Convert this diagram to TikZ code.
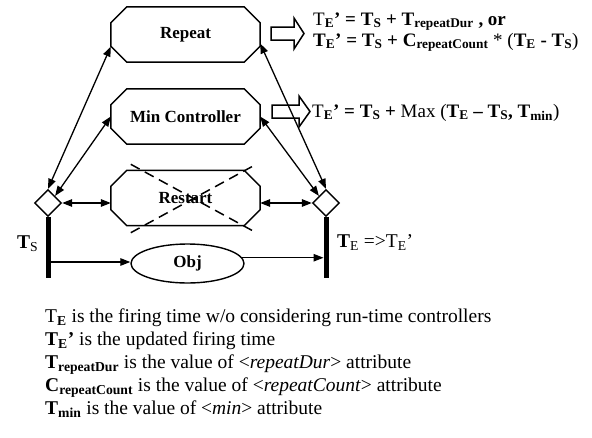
\documentclass[tikz,border=0pt]{standalone}
\usepackage{fontspec}
\setmainfont{Liberation Serif}
\usetikzlibrary{shapes.geometric,arrows.meta,calc}
\newcommand{\sbs}[1]{\textsubscript{#1}}
\newcommand{\octbox}[1]{%
  \draw[boxline] ($(#1.north west)+(16,0)$) -- ($(#1.north east)+(-16,0)$)
    -- ($(#1.north east)+(0,16)$) -- ($(#1.south east)+(0,-16)$)
    -- ($(#1.south east)+(-16,0)$) -- ($(#1.south west)+(16,0)$)
    -- ($(#1.south west)+(0,-16)$) -- ($(#1.north west)+(0,16)$) -- cycle;}
\begin{document}
\begin{tikzpicture}[x=1pt,y=-1pt,
  boxline/.style={line width=1.5pt, line join=miter},
  ctrl/.style={rectangle, minimum width=149pt, minimum height=55pt, inner sep=0pt,
    font=\fontsize{17}{20}\selectfont\bfseries},
  dia/.style={diamond, draw, line width=1.4pt, minimum width=27pt, minimum height=27pt, inner sep=0pt, fill=white},
  bar/.style={line width=5pt},
  arr/.style={line width=1.3pt, -{Triangle[length=10pt,width=7.5pt]}},
  darr/.style={line width=1.3pt, {Triangle[length=10pt,width=7.5pt]}-{Triangle[length=10pt,width=7.5pt]}},
  hollow/.style={line width=1.5pt, line join=miter},
  big/.style={font=\fontsize{19.5}{23}\selectfont, inner sep=0pt, anchor=base west},
  frm/.style={font=\fontsize{19}{23}\selectfont, inner sep=0pt, anchor=base west},
  xcross/.style={line width=1.5pt, dash pattern=on 10pt off 6pt}
]
\useasboundingbox (0,0) rectangle (592,437);

% controller boxes
\node[ctrl] (rep) at (185.5,34.5) {Repeat};
\node[ctrl] (minc) at (185.5,116.5) {Min Controller};
\node[ctrl] (rst) at (185.5,198) {Restart};
\octbox{rep}
\octbox{minc}
\octbox{rst}
\draw[xcross] ($(rst.north west)+(20,-6)$) -- ($(rst.south east)+(-4,7)$);
\draw[xcross] ($(rst.south west)+(20,7)$) -- ($(rst.north east)+(-4,-6)$);

% object
\node[ellipse, draw, line width=1.4pt, minimum width=113pt, minimum height=39pt, inner sep=0pt,
  font=\fontsize{17}{20}\selectfont\bfseries] (obj) at (187.5,263.5) {Obj};

% diamonds and bars
\node[dia] (ldia) at (48,203) {};
\node[dia] (rdia) at (326,203) {};
\coordinate (lb) at (48,278);
\coordinate (rb) at (326,278);
\draw[bar] (ldia.south) -- (lb);
\draw[bar] (rdia.south) -- (rb);
\coordinate (ls) at (50.5,262);
\coordinate (rbl) at (323.5,258);

% connectors
\draw[darr] ($(rep.west)+(0,12)$) -- (ldia.north);
\draw[darr] (minc.west) -- (ldia.north east);
\draw[darr] ($(rep.east)+(0,9)$) -- (rdia.north);
\draw[darr] (minc.east) -- (rdia.north west);
\draw[darr] (ldia.east) -- (ldia.east -| rst.west);
\draw[darr] (rst.east |- rdia.west) -- (rdia.west);
\draw[arr] (ls) -- (ls -| obj.west);
\draw[arr] (obj.6) -- (obj.6 -| rbl);

% hollow arrows
\draw[hollow] (271,27) -- (294,27) -- (294,18) -- (304,33.5) -- (294,49) -- (294,40) -- (271,40) -- cycle;
\draw[hollow] (272,105) -- (299,105) -- (299,96) -- (310,111.5) -- (299,127) -- (299,118) -- (272,118) -- cycle;

% formulas
\node[frm] (f1) at (313,25) {T\sbs{\textbf{E}}\textbf{’ = T\sbs{S} + T\sbs{repeatDur} , or}};
\node[frm] (f2) at (313,46) {\textbf{T\sbs{E}’ = T\sbs{S} + C\sbs{repeatCount}} * (\textbf{T\sbs{E} - T\sbs{S}})};
\node[frm] (f3) at (312,117) {T\sbs{\textbf{E}}\textbf{’ = T\sbs{S} +} Max (\textbf{T\sbs{E} – T\sbs{S}, T\sbs{min}})};

% time labels
\node[big] (tsl) at (17,248) {\textbf{T}\sbs{S}};
\node[big] (tel) at (337,247) {\textbf{T}\sbs{E} =>T\sbs{E}’};

% legend
\node[big] (l1) at (45,322) {T\sbs{\textbf{E}} is the firing time w/o considering run-time controllers};
\node[big] (l2) at (45,345) {\textbf{T\sbs{E}’} is the updated firing time};
\node[big] (l3) at (45,368) {\textbf{T\sbs{repeatDur}} is the value of <\textit{repeatDur}> attribute};
\node[big] (l4) at (45,391) {\textbf{C\sbs{repeatCount}} is the value of <\textit{repeatCount}> attribute};
\node[big] (l5) at (45,414) {\textbf{T\sbs{min}} is the value of <\textit{min}> attribute};
\end{tikzpicture}
\end{document}
